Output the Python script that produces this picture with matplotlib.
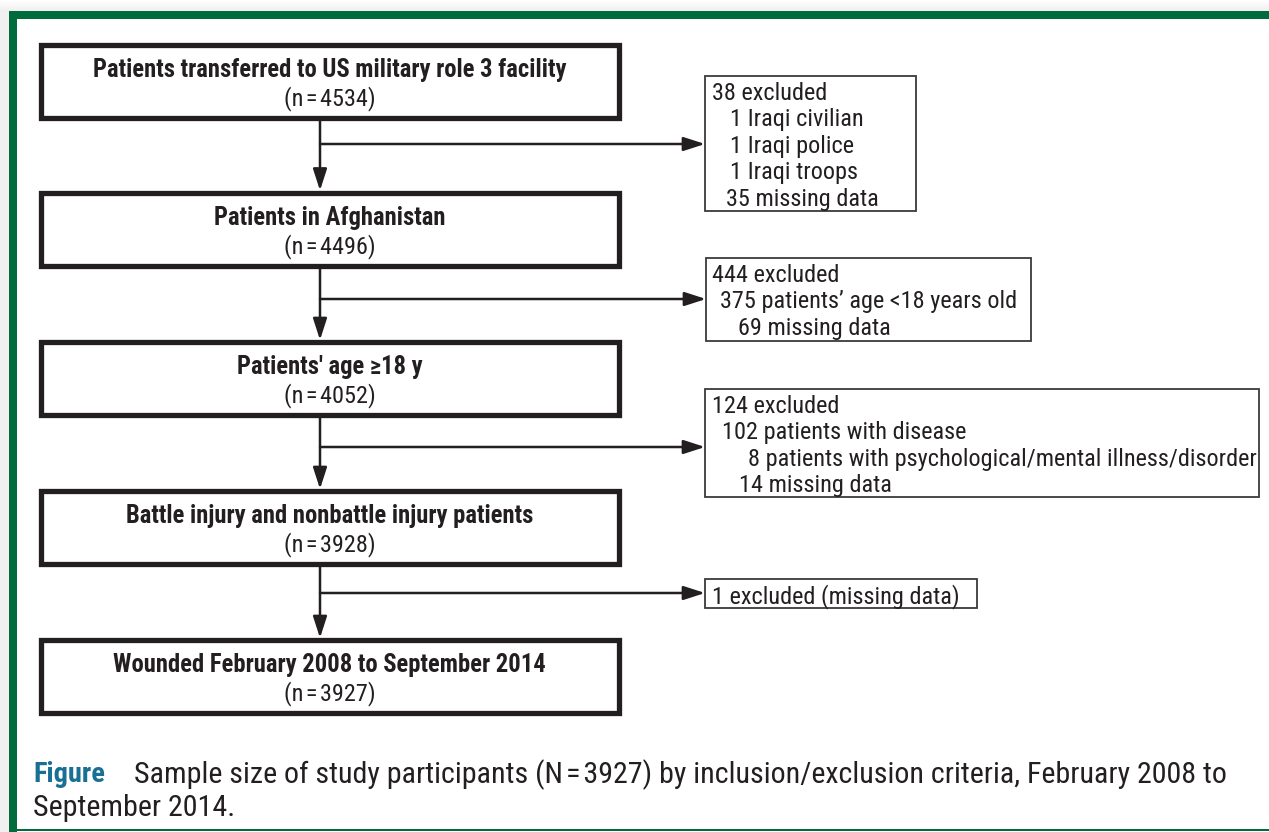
import matplotlib
matplotlib.use("Agg")
import matplotlib.pyplot as plt
from matplotlib.patches import Rectangle
from matplotlib import font_manager

# ---------------- data ----------------
stage_titles = [
    "Patients transferred to US military role 3 facility",
    "Patients in Afghanistan",
    "Patients' age \u226518 y",
    "Battle injury and nonbattle injury patients",
    "Wounded February 2008 to September 2014",
]
stage_n = [4534, 4496, 4052, 3928, 3927]

excl_1 = ["38 excluded", "1 Iraqi civilian", "1 Iraqi police", "1 Iraqi troops", "35 missing data"]
excl_2 = ["444 excluded", "375 patients\u2019 age <18 years old", "69 missing data"]
excl_3 = ["124 excluded", "102 patients with disease",
          "8 patients with psychological/mental illness/disorder", "14 missing data"]
excl_4 = ["1 excluded (missing data)"]
exclusions = [excl_1, excl_2, excl_3, excl_4]

caption_label = "Figure"
caption_line1 = "Sample size of study participants (N\u200a=\u200a3927) by inclusion/exclusion criteria, February 2008 to"
caption_line2 = "September 2014."

# ---------------- fonts ----------------
W, H = 1269, 832
ttf = font_manager.fontManager.ttflist
names = {f.name for f in ttf}
STRETCH = "normal"
if "Liberation Sans Narrow" in names:
    FAM = ["Liberation Sans Narrow", "DejaVu Sans"]
elif "Roboto Condensed" in names:
    FAM = ["Roboto Condensed", "DejaVu Sans"]
elif any(f.name == "DejaVu Sans" and "Condensed" in f.fname for f in ttf):
    FAM = ["DejaVu Sans"]
    STRETCH = "condensed"
elif "Roboto" in names:
    FAM = ["Roboto", "DejaVu Sans"]
else:
    FAM = ["DejaVu Sans"]

TXT = "#231f20"
GREEN = "#006b3c"
BLUE = "#1a6f94"

fig = plt.figure(figsize=(W / 100, H / 100), dpi=100)
ax = fig.add_axes([0, 0, 1, 1])
ax.set_xlim(0, W)
ax.set_ylim(H, 0)
ax.axis("off")
renderer = fig.canvas.get_renderer()


def fit_size(s, target_px, weight="normal", base=15.0):
    t = ax.text(0, 0, s, fontsize=base, fontweight=weight, family=FAM, fontstretch=STRETCH)
    w = t.get_window_extent(renderer=renderer).width
    t.remove()
    return base * target_px / w


FS_BOLD = fit_size(stage_titles[0], 474, "bold")
FS_NORM = 0.5 * (fit_size(excl_2[1], 303) + fit_size(excl_3[2], 500))
FS_CAP = fit_size(caption_line1, 1094)
FS_CAPB = fit_size(caption_label, 72, "bold")


def txt(x, y, s, size, weight="normal", color=TXT, ha="left"):
    return ax.text(x, y, s, ha=ha, va="center", fontsize=size, fontweight=weight,
                   family=FAM, fontstretch=STRETCH, color=color)


# frame: shadow + green bars
for i in range(11):
    g = 1 - 0.06 * (i / 10)
    ax.add_patch(Rectangle((0, i), W, 1, color=(g, g, g), lw=0))
ax.add_patch(Rectangle((0, 11), 9, H - 11, color="#f0f0f0", lw=0))
ax.add_patch(Rectangle((9, 11), W - 9, 8, color=GREEN, lw=0))
ax.add_patch(Rectangle((9, 11), 8, H - 11, color=GREEN, lw=0))
ax.add_patch(Rectangle((17, 829), W - 17, 2, color=GREEN, lw=0))

# main boxes
box_x0, box_x1 = 40.5, 618.5
box_tops = [44.5, 192.5, 342, 491, 640]
box_h = 73
cx = (box_x0 + box_x1) / 2
stem_x = 320

for top, title, n in zip(box_tops, stage_titles, stage_n):
    ax.add_patch(Rectangle((box_x0, top), box_x1 - box_x0, box_h, fill=False,
                           ec=TXT, lw=3.8, joinstyle="miter"))
    txt(cx, top + 25, title, FS_BOLD, "bold", ha="center")
    txt(cx, top + 54, f"(n\u200a=\u200a{n})", FS_NORM, ha="center")


def arrow(x0, y0, x1, y1, hl, hw):
    ax.annotate("", xy=(x1, y1), xytext=(x0, y0),
                arrowprops=dict(arrowstyle=f"-|>,head_length={hl},head_width={hw}",
                                color=TXT, lw=1.8, shrinkA=0, shrinkB=0))


# exclusion boxes
ex_boxes = [(705, 76, 916, 211), (706, 258, 1031, 341), (705, 389, 1259, 497), (705, 579, 977, 608)]
indents = [[712, 730, 730, 730, 726], [712, 720, 738], [712, 722, 748, 739], [712]]
branch_y = [144, 299, 447, 593]
line_h = 26.4

for k, ((x0, y0, x1, y1), lines, ind, by) in enumerate(zip(ex_boxes, exclusions, indents, branch_y)):
    ax.add_patch(Rectangle((x0, y0), x1 - x0, y1 - y0, fill=False, ec="#3a3a3a", lw=1.3))
    for j, (s, xi) in enumerate(zip(lines, ind)):
        txt(xi, y0 + 17.5 + j * line_h, s, FS_NORM)
    arrow(stem_x, box_tops[k] + box_h + 2, stem_x, box_tops[k + 1] - 2, 1.3, 0.42)
    arrow(stem_x, by, x0, by, 1.3, 0.42)

# caption
t = txt(33, 775, caption_label, FS_CAPB, "bold", color=BLUE)
bb = t.get_window_extent(renderer=renderer)
x_after = ax.transData.inverted().transform((bb.x1, 0))[0]
txt(134, 775, caption_line1, FS_CAP)
txt(33, 808, caption_line2, FS_CAP)

fig.savefig("out.png", dpi=100)
